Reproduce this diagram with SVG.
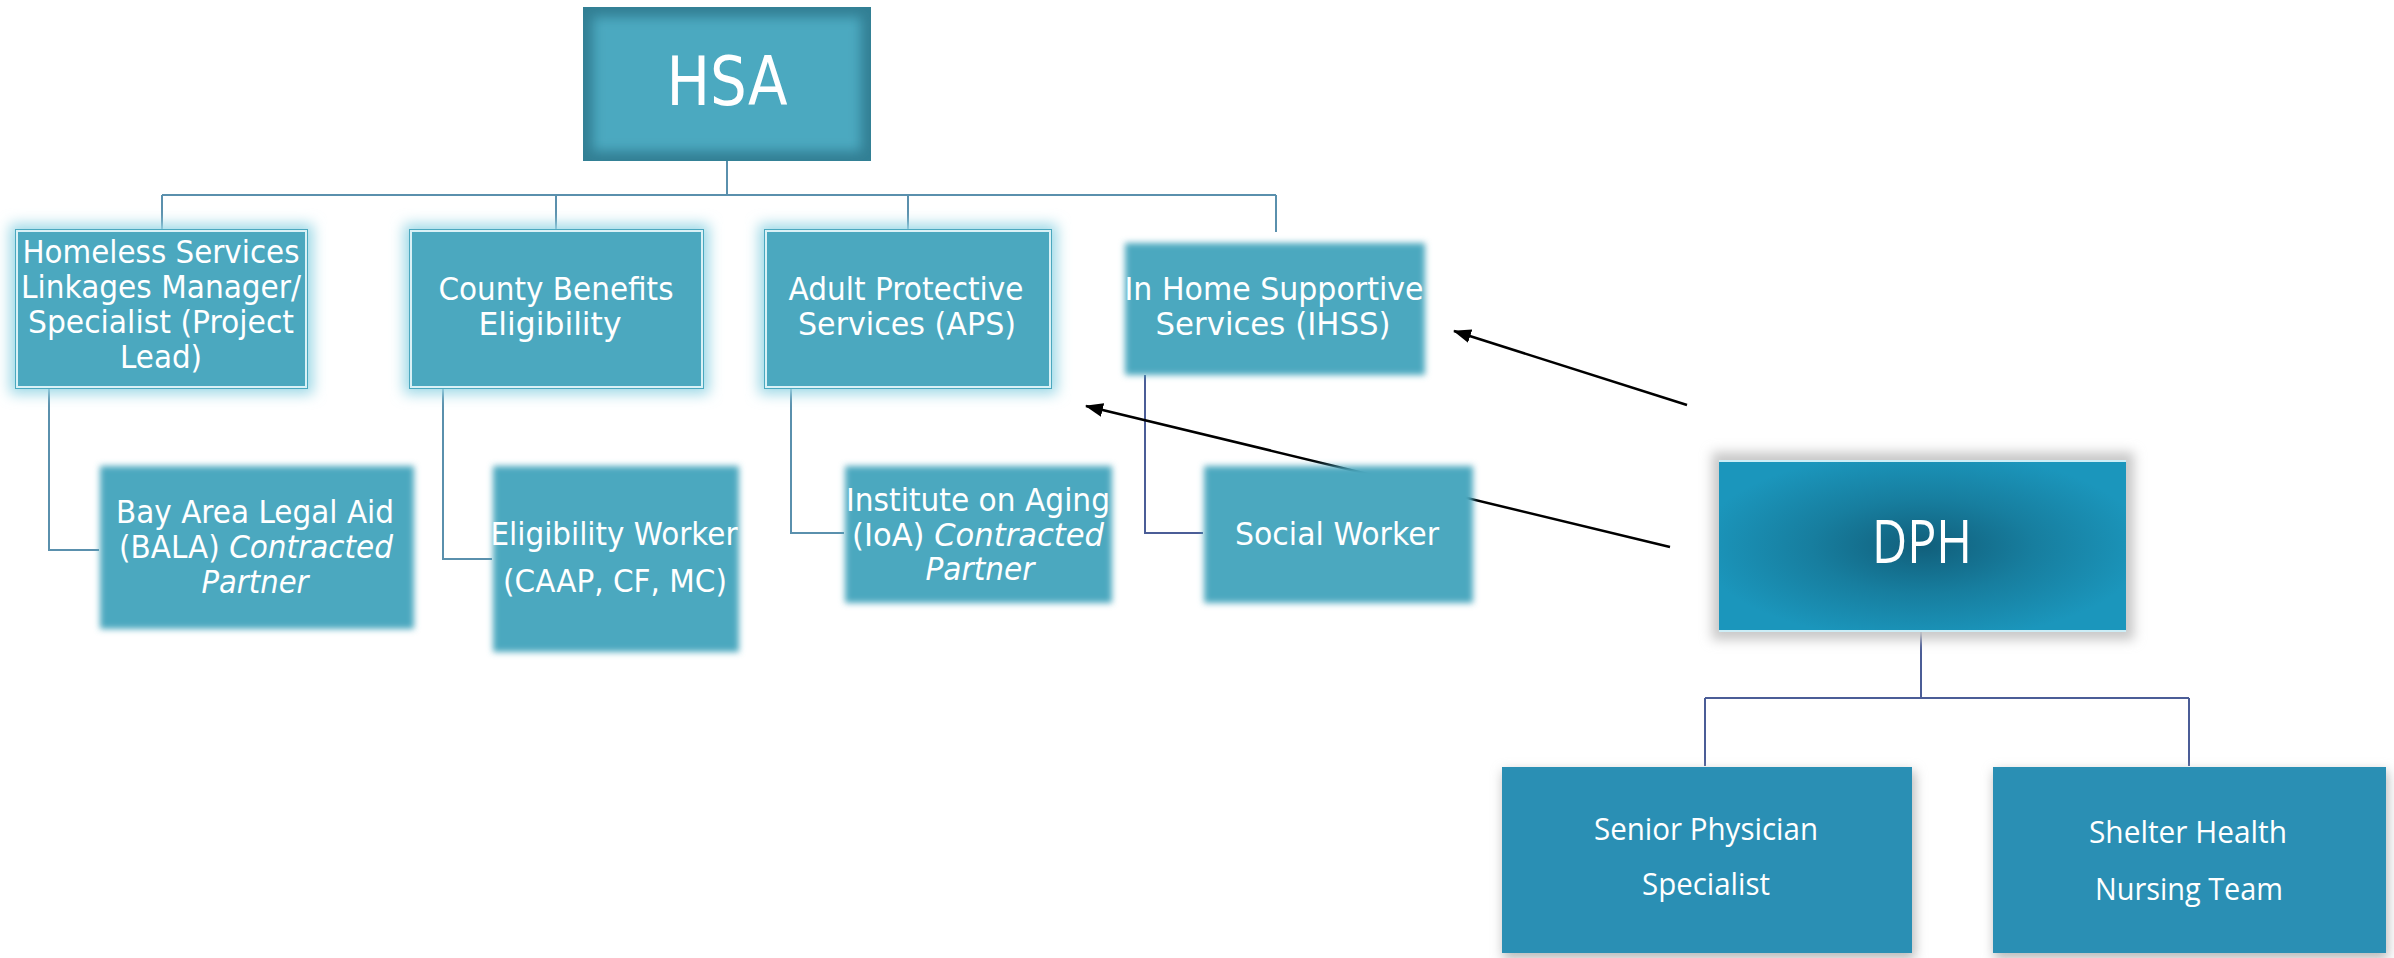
<svg xmlns="http://www.w3.org/2000/svg" width="2394" height="958" viewBox="0 0 2394 958">
  <defs>
    <style>
      .lbl { font-family: "DejaVu Sans", "Liberation Sans", sans-serif; fill: #ffffff; text-anchor: middle; }
      .sm { font-size: 32px; }
      .md { font-size: 32px; }
      .cal { font-family: "Open Sans", "Noto Sans", "Liberation Sans", sans-serif; fill: #ffffff; text-anchor: middle; }
      .cal-sm { font-size: 31px; }
      .cal-lg { font-size: 60px; }
      .it { font-style: italic; }
      .fill-hsa { fill: #4ba8bf; }
      .glow { fill: #9cd8e6; }
      .edge { fill: none; stroke: #d9f1f6; stroke-width: 2; }
      .tree { fill: none; stroke: #5a90ad; stroke-width: 2; }
      .tree2 { fill: none; stroke: #4b5d97; stroke-width: 2; }
      .arrow { fill: none; stroke: #000000; stroke-width: 2.5; marker-end: url(#head); }
    </style>
    <filter id="blurGlow" x="-25%" y="-25%" width="150%" height="150%">
      <feGaussianBlur stdDeviation="7"/>
    </filter>
    <filter id="feather" x="-10%" y="-10%" width="120%" height="120%">
      <feGaussianBlur stdDeviation="3"/>
    </filter>
    <filter id="inner" x="-10%" y="-10%" width="120%" height="120%">
      <feGaussianBlur stdDeviation="6"/>
    </filter>
    <filter id="shade" x="-15%" y="-15%" width="130%" height="130%">
      <feGaussianBlur stdDeviation="6"/>
    </filter>
    <clipPath id="hsaClip"><rect x="583" y="7" width="288" height="154"/></clipPath>
    <radialGradient id="dphGrad" cx="0.5" cy="0.5" r="0.55">
      <stop offset="0" stop-color="#115f7b"/>
      <stop offset="0.5" stop-color="#177e9f"/>
      <stop offset="1" stop-color="#1b96bc"/>
    </radialGradient>
    <marker id="head" markerUnits="userSpaceOnUse" markerWidth="18" markerHeight="14" refX="17" refY="7" orient="auto">
      <path d="M0,0 L18,7 L0,14 z" fill="#000000"/>
    </marker>
  </defs>

  <rect x="0" y="0" width="2394" height="958" fill="#ffffff"/>

  <!-- connectors -->
  <g id="connectors">
    <path class="tree" d="M727,160 V195 M162,195 H1276 M162,195 V229 M556,195 V229 M908,195 V229 M1276,195 V232"/>
    <path class="tree" d="M49,389 V550 H99"/>
    <path class="tree" d="M443,389 V559 H492"/>
    <path class="tree" d="M791,389 V533 H844"/>
    <path class="tree2" d="M1145,375 V533 H1203"/>
    <path class="tree2" d="M1921,632 V698 M1705,698 H2189 M1705,698 V766 M2189,698 V766"/>
    <line class="arrow" x1="1687" y1="405" x2="1454" y2="331"/>
    <line class="arrow" x1="1670" y1="547" x2="1086" y2="406"/>
  </g>

  <!-- HSA -->
  <g id="hsa">
    <rect x="583" y="7" width="288" height="154" fill="#327f94"/>
    <g clip-path="url(#hsaClip)">
      <rect x="593" y="17" width="268" height="134" fill="#4ba9c0" filter="url(#inner)"/>
    </g>
    <text class="lbl" x="727" y="105" font-size="68" textLength="121" lengthAdjust="spacingAndGlyphs">HSA</text>
  </g>

  <!-- Homeless Services Linkages -->
  <g id="homeless">
    <rect class="glow" x="10" y="224" width="303" height="170" filter="url(#blurGlow)"/>
    <rect class="fill-hsa" x="15" y="229" width="293" height="160"/>
    <rect class="edge" x="17" y="231" width="289" height="156"/>
    <text class="lbl sm" x="161" y="263" textLength="277" lengthAdjust="spacingAndGlyphs">Homeless Services</text>
    <text class="lbl sm" x="161" y="298" textLength="280" lengthAdjust="spacingAndGlyphs">Linkages Manager/</text>
    <text class="lbl sm" x="161" y="333" textLength="266" lengthAdjust="spacingAndGlyphs">Specialist (Project</text>
    <text class="lbl sm" x="161" y="368" textLength="82" lengthAdjust="spacingAndGlyphs">Lead)</text>
  </g>

  <!-- County Benefits Eligibility -->
  <g id="county">
    <rect class="glow" x="404" y="224" width="305" height="170" filter="url(#blurGlow)"/>
    <rect class="fill-hsa" x="409" y="229" width="295" height="160"/>
    <rect class="edge" x="411" y="231" width="291" height="156"/>
    <text class="lbl sm" x="556" y="300" textLength="235" lengthAdjust="spacingAndGlyphs">County Benefits</text>
    <text class="lbl sm" x="550" y="335" textLength="143" lengthAdjust="spacingAndGlyphs">Eligibility</text>
  </g>

  <!-- Adult Protective Services -->
  <g id="aps">
    <rect class="glow" x="759" y="224" width="298" height="170" filter="url(#blurGlow)"/>
    <rect class="fill-hsa" x="764" y="229" width="288" height="160"/>
    <rect class="edge" x="766" y="231" width="284" height="156"/>
    <text class="lbl sm" x="906" y="300" textLength="235" lengthAdjust="spacingAndGlyphs">Adult Protective</text>
    <text class="lbl sm" x="907" y="335" textLength="218" lengthAdjust="spacingAndGlyphs">Services (APS)</text>
  </g>

  <!-- In Home Supportive Services -->
  <g id="ihss">
    <rect class="fill-hsa" x="1125" y="243" width="300" height="132" filter="url(#feather)"/>
    <text class="lbl sm" x="1274" y="300" textLength="299" lengthAdjust="spacingAndGlyphs">In Home Supportive</text>
    <text class="lbl sm" x="1273" y="335" textLength="235" lengthAdjust="spacingAndGlyphs">Services (IHSS)</text>
  </g>

  <!-- Bay Area Legal Aid -->
  <g id="bala">
    <rect class="fill-hsa" x="100" y="466" width="314" height="163" filter="url(#feather)"/>
    <text class="lbl md" x="255" y="523" textLength="278" lengthAdjust="spacingAndGlyphs">Bay Area Legal Aid</text>
    <text class="lbl md" x="256" y="558" textLength="274" lengthAdjust="spacingAndGlyphs">(BALA) <tspan class="it">Contracted</tspan></text>
    <text class="lbl md it" x="255" y="593" textLength="107" lengthAdjust="spacingAndGlyphs">Partner</text>
  </g>

  <!-- Eligibility Worker -->
  <g id="eligibility-worker">
    <rect class="fill-hsa" x="493" y="466" width="246" height="186" filter="url(#feather)"/>
    <text class="lbl md" x="614" y="545" textLength="247" lengthAdjust="spacingAndGlyphs">Eligibility Worker</text>
    <text class="lbl md" x="615" y="592" textLength="224" lengthAdjust="spacingAndGlyphs">(CAAP, CF, MC)</text>
  </g>

  <!-- Institute on Aging -->
  <g id="ioa">
    <rect class="fill-hsa" x="845" y="466" width="267" height="137" filter="url(#feather)"/>
    <text class="lbl sm" x="978" y="511" textLength="264" lengthAdjust="spacingAndGlyphs">Institute on Aging</text>
    <text class="lbl sm" x="978" y="546" textLength="252" lengthAdjust="spacingAndGlyphs">(IoA) <tspan class="it">Contracted</tspan></text>
    <text class="lbl sm it" x="980" y="580" textLength="109" lengthAdjust="spacingAndGlyphs">Partner</text>
  </g>

  <!-- Social Worker -->
  <g id="social-worker">
    <rect class="fill-hsa" x="1204" y="466" width="269" height="137" filter="url(#feather)"/>
    <text class="lbl sm" x="1337" y="545" textLength="204" lengthAdjust="spacingAndGlyphs">Social Worker</text>
  </g>

  <!-- DPH -->
  <g id="dph">
    <rect x="1712" y="452" width="422" height="188" fill="#c8c8c8" filter="url(#shade)"/>
    <rect x="1719" y="460" width="407" height="172" fill="url(#dphGrad)"/>
    <line x1="1719" y1="461" x2="2126" y2="461" stroke="#cdeef7" stroke-width="2"/>
    <line x1="1719" y1="631" x2="2126" y2="631" stroke="#cdeef7" stroke-width="2"/>
    <text class="cal cal-lg" x="1922" y="563" textLength="100" lengthAdjust="spacingAndGlyphs">DPH</text>
  </g>

  <!-- Senior Physician Specialist -->
  <g id="senior-physician">
    <rect x="1503" y="771" width="412" height="188" fill="#b9b9b9" filter="url(#shade)"/>
    <rect x="1502" y="767" width="410" height="186" fill="#2a8fb4"/>
    <text class="cal cal-sm" x="1706" y="840" textLength="224" lengthAdjust="spacingAndGlyphs">Senior Physician</text>
    <text class="cal cal-sm" x="1706" y="895" textLength="128" lengthAdjust="spacingAndGlyphs">Specialist</text>
  </g>

  <!-- Shelter Health Nursing Team -->
  <g id="shelter-health">
    <rect x="1994" y="771" width="394" height="188" fill="#b9b9b9" filter="url(#shade)"/>
    <rect x="1993" y="767" width="393" height="186" fill="#2a8fb4"/>
    <text class="cal cal-sm" x="2188" y="843" textLength="198" lengthAdjust="spacingAndGlyphs">Shelter Health</text>
    <text class="cal cal-sm" x="2189" y="900" textLength="188" lengthAdjust="spacingAndGlyphs">Nursing Team</text>
  </g>
</svg>
